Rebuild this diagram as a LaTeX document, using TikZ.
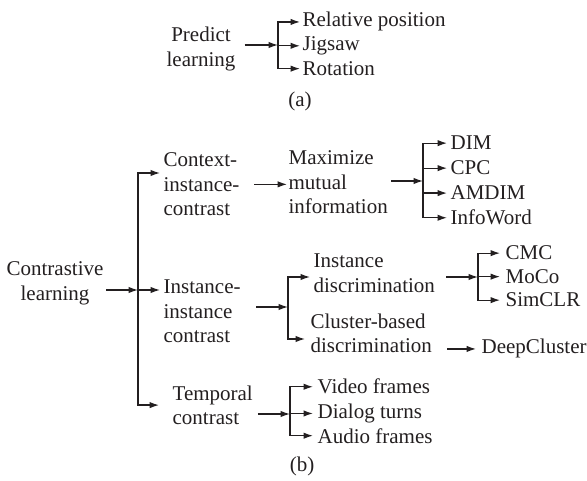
\documentclass[tikz,border=0pt]{standalone}
\usepackage{fontspec}
\setmainfont{Liberation Serif}
\usetikzlibrary{arrows.meta}
\definecolor{ink}{RGB}{35,31,32}
\begin{document}
\begin{tikzpicture}[x=1pt,y=-1pt,color=ink,line width=1.25pt,
  font=\fontsize{21}{24.5}\selectfont,
  every node/.style={inner sep=0pt},
  blk/.style={align=left,anchor=west},
  leaf/.style={anchor=base west},
  >={Latex[length=9.5pt,width=6.5pt]}]
\useasboundingbox (0,0) rectangle (587,481);

% (a)
\node[align=center] (pl) at (201,48.9) {Predict\\learning};
\coordinate (pa) at (278,45);
\node[leaf] (rp) at (302,27) {Relative position};
\node[leaf] (jg) at (302,50.5) {Jigsaw};
\node[leaf] (rt) at (302,75.5) {Rotation};
\node (la) at (300,101) {(a)};
\draw[->,shorten <=8.6pt] (pl.east |- pa) -- (pa);
\foreach \n in {rp,jg,rt}
\draw[->,shorten >=2pt] (pa) |- (\n.west);

% (b)
\node[align=center] (cl) at (55,283.4) {Contrastive\\learning};
\coordinate (b0) at (138,290);
\node[blk] (ci) at (163,184.35) {Context-\\instance-\\contrast};
\node[blk] (ii) at (163,311.35) {Instance-\\instance\\contrast};
\node[blk] (tc) at (172,405.1) {Temporal\\contrast};
\draw[->,shorten <=2pt] (cl.east |- b0) -- (b0);
\draw[->,shorten >=3pt] (b0) |- ([yshift=11.35pt]ci.west);
\draw[->,shorten >=3pt] (b0) |- ([yshift=21.35pt]ii.west);
\draw[->,shorten >=13pt] (b0) |- (tc.west);

\node[blk] (mm) at (288,182.35) {Maximize\\mutual\\information};
\coordinate (bm) at (423,181);
\node[leaf] (dim) at (450,150) {DIM};
\node[leaf] (cpc) at (450,175) {CPC};
\node[leaf] (amdim) at (450,200) {AMDIM};
\node[leaf] (infoword) at (450,225) {InfoWord};
\draw[->,shorten <=14pt,shorten >=1pt] (ci.east) -- (ci.east -| mm.west);
\draw[->,shorten <=3pt] (mm.east |- bm) -- (bm);
\foreach \n in {dim,cpc,amdim,infoword}
\draw[->,shorten >=3pt] (bm) |- (\n.west);

\coordinate (bi) at (288,307);
\node[blk] (id) at (313,273.1) {Instance\\discrimination};
\node[blk] (cb) at (310,333.1) {Cluster-based\\discrimination};
\draw[->,shorten <=15pt] ([yshift=4.35pt]ii.east) -- (bi);
\draw[->,shorten >=3pt] (bi) |- ([yshift=-3.9pt]id.west);
\draw[->,shorten >=5pt] (bi) |- ([yshift=-5.9pt]cb.west);

\coordinate (bd) at (478,277);
\node[leaf] (cmc) at (505,260) {CMC};
\node[leaf] (moco) at (505,283.5) {MoCo};
\node[leaf] (simclr) at (505,307) {SimCLR};
\draw[->,shorten <=10.7pt] (id.east |- bd) -- (bd);
\foreach \n in {cmc,moco,simclr}
\draw[->,shorten >=5pt] (bd) |- (\n.west);

\node[leaf] (dc) at (481,354) {DeepCluster};
\draw[->,shorten <=14.7pt,shorten >=5pt] (cb.east |- dc.west) -- (dc.west);

\coordinate (bt) at (290,414);
\node[leaf] (vf) at (317,394) {Video frames};
\node[leaf] (dt) at (317,418.5) {Dialog turns};
\node[leaf] (af) at (317,443) {Audio frames};
\draw[->,shorten <=4.4pt] (tc.east |- bt) -- (bt);
\foreach \n in {vf,dt,af}
\draw[->,shorten >=4pt] (bt) |- (\n.west);

\node (lb) at (302,466) {(b)};
\end{tikzpicture}
\end{document}
